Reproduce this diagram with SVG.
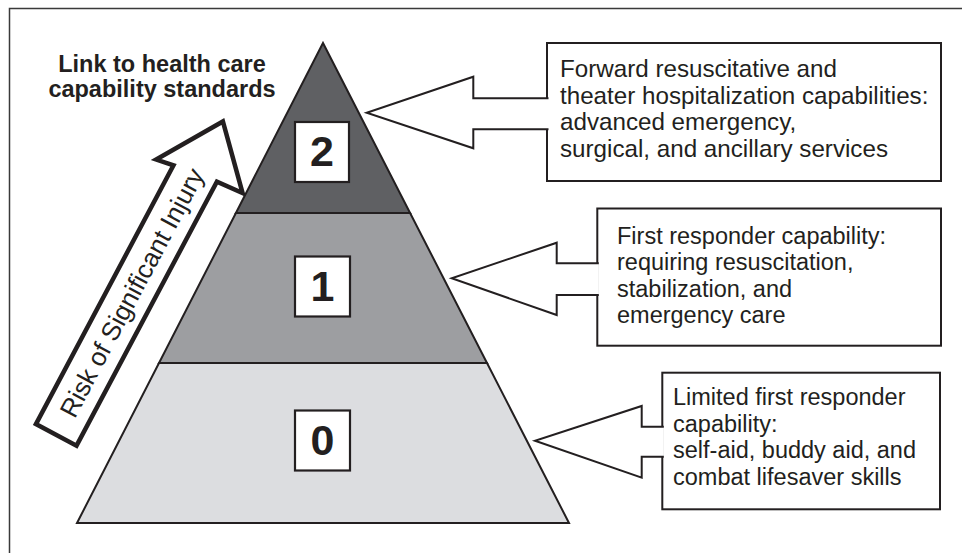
<svg xmlns="http://www.w3.org/2000/svg" width="962" height="553" viewBox="0 0 962 553">
<style>
.frame{stroke:#3a3a3a;stroke-width:1.5;fill:none}
.tier{stroke:#231f20;stroke-width:2;stroke-linejoin:miter}
.numbox{fill:#fff;stroke:#231f20;stroke-width:2.2}
.num{font-family:"Liberation Sans",Arial,sans-serif;font-weight:bold;font-size:43px;fill:#231f20;text-anchor:middle}
.box{fill:#fff;stroke:#231f20;stroke-width:2}
.call{fill:#fff;stroke:#231f20;stroke-width:2;stroke-linejoin:miter}
.txt{font-family:"Liberation Sans",Arial,sans-serif;font-size:23.5px;fill:#231f20}
.big{font-size:24.2px}
.title{font-family:"Liberation Sans",Arial,sans-serif;font-weight:bold;font-size:23.5px;fill:#231f20;text-anchor:middle}
.risk{fill:#fff;stroke:#231f20;stroke-width:4.5;stroke-linejoin:miter}
.risktxt{font-family:"Liberation Sans",Arial,sans-serif;font-size:26px;fill:#231f20;text-anchor:middle}
</style>
<rect width="962" height="553" fill="#fff"/>
<path class="frame" d="M9.5,553 V8.5 H962"/>

<g id="title">
<text class="title" x="162" y="72">Link to health care</text>
<text class="title" x="162" y="97">capability standards</text>
</g>

<g id="risk-arrow" transform="translate(56.7,434) rotate(-62)">
<path class="risk" d="M-1,-23 L292,-23 L289,-41 L354,0 L300,51 L298,23 L-1,23 Z"/>
<text class="risktxt" x="160" y="9">Risk of Significant Injury</text>
</g>

<g id="tier-2">
<polygon class="tier" fill="#5f6063" points="323,43 410.1,213 235.9,213"/>
<rect class="numbox" x="295" y="122" width="54" height="60"/>
<text class="num" x="322" y="166">2</text>
</g>
<g id="tier-1">
<polygon class="tier" fill="#9d9ea1" points="235.9,213 410.1,213 487,363 159,363"/>
<rect class="numbox" x="295" y="256.5" width="55" height="60"/>
<text class="num" x="322.5" y="301">1</text>
</g>
<g id="tier-0">
<polygon class="tier" fill="#dcdde0" points="159,363 487,363 569,523 77,523"/>
<rect class="numbox" x="295" y="410.5" width="55" height="60"/>
<text class="num" x="322.5" y="455">0</text>
</g>

<g id="box-2">
<rect class="box" x="547" y="43" width="394" height="138"/>
<text class="txt big" x="560" y="77">Forward resuscitative and</text>
<text class="txt big" x="560" y="103.5">theater hospitalization capabilities:</text>
<text class="txt big" x="560" y="130">advanced emergency,</text>
<text class="txt big" x="560" y="156.5">surgical, and ancillary services</text>
</g>
<g id="box-1">
<rect class="box" x="597.3" y="208.5" width="343.7" height="137.2"/>
<text class="txt" x="617" y="244">First responder capability:</text>
<text class="txt" x="617" y="270.3">requiring resuscitation,</text>
<text class="txt" x="617" y="296.6">stabilization, and</text>
<text class="txt" x="617" y="322.9">emergency care</text>
</g>
<g id="box-0">
<rect class="box" x="662.3" y="372.7" width="277.7" height="136.6"/>
<text class="txt" x="673" y="405">Limited first responder</text>
<text class="txt" x="673" y="431.7">capability:</text>
<text class="txt" x="673" y="458.4">self-aid, buddy aid, and</text>
<text class="txt" x="673" y="485">combat lifesaver skills</text>
</g>

<g id="connectors">
<path class="call" d="M548.5,98.3 H473.3 V76.7 L366.7,112.7 L473.3,148.3 V129.3 H548.5"/>
<path class="call" d="M598.8,263.3 H556.7 V242.7 L451.7,278.3 L556.7,315 V295 H598.8"/>
<path class="call" d="M663.8,426.7 H641.7 V406 L535,440.7 L641.7,477.7 V456.7 H663.8"/>
</g>
</svg>
